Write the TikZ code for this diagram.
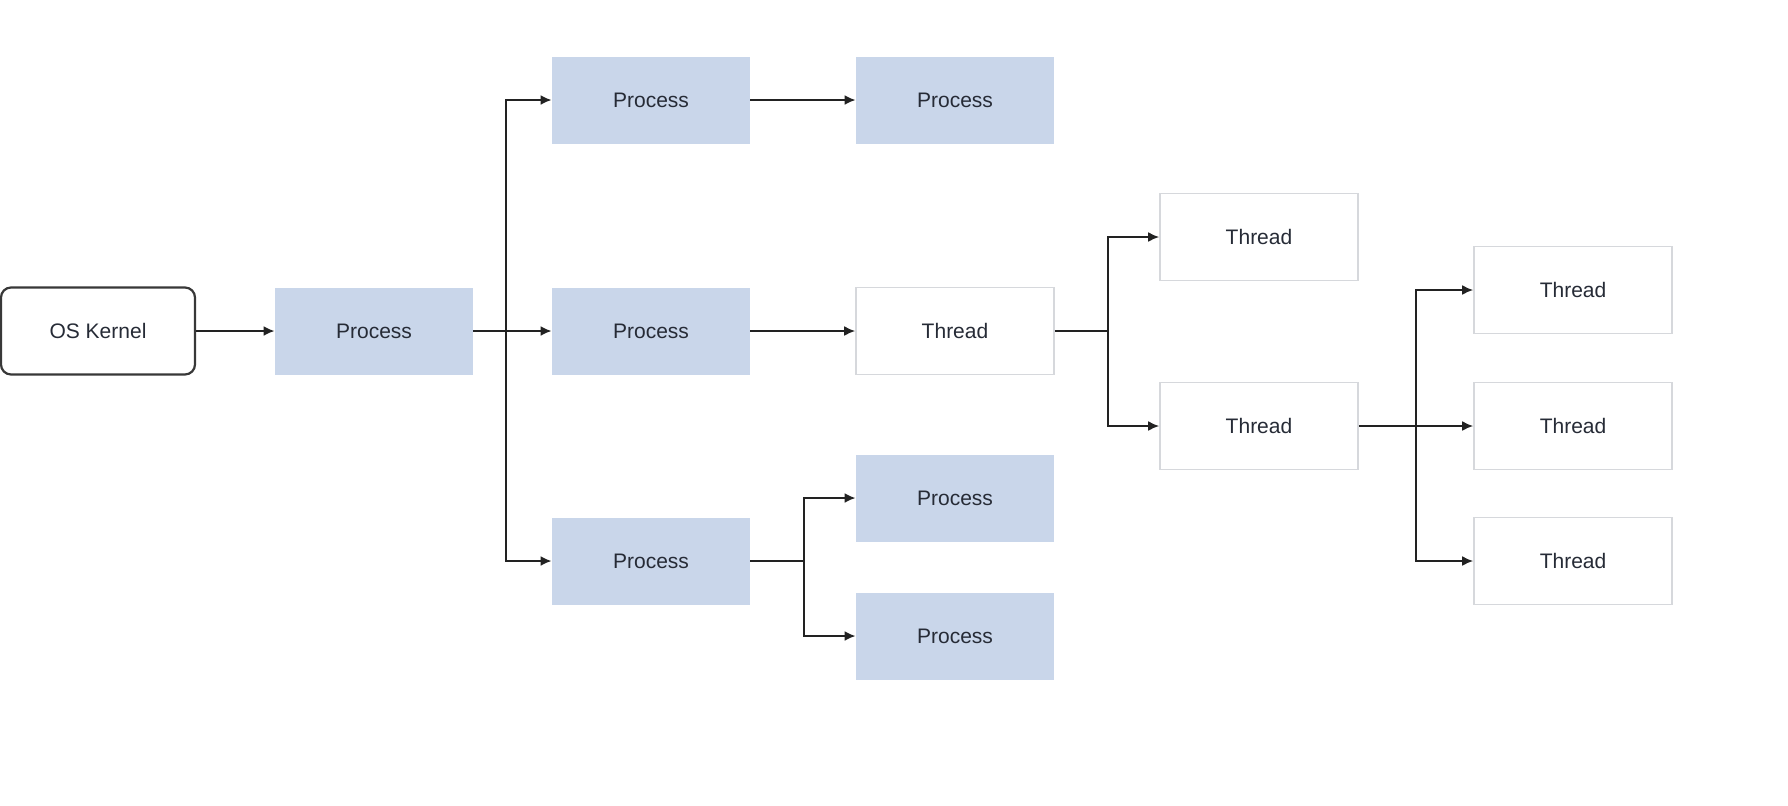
\documentclass[tikz,border=0pt]{standalone}
\usepackage{fontspec}
\setmainfont{Liberation Sans}
\usetikzlibrary{arrows.meta}
\definecolor{procfill}{HTML}{C9D6EA}
\definecolor{thrline}{HTML}{D6D8DC}
\definecolor{txt}{HTML}{262B36}
\definecolor{lnc}{HTML}{222222}
\tikzset{
  basebox/.style={minimum width=99pt, minimum height=43.5pt, inner sep=0pt,
    font=\fontsize{10.5}{12}\selectfont, text=txt},
  procbox/.style={basebox, fill=procfill, draw=none},
  threadbox/.style={basebox, fill=white, draw=thrline, line width=0.8pt},
  kernelbox/.style={basebox, minimum width=97pt, fill=white, draw=lnc!90, line width=1.1pt, rounded corners=5pt},
  conn/.style={draw=lnc, line width=1pt, -{Latex[length=5.5pt,width=5pt]}},
  wire/.style={draw=lnc, line width=1pt}
}
\begin{document}
\begin{tikzpicture}[x=0.5pt,y=-0.5pt]
\useasboundingbox (0,0) rectangle (1788,805);
\node[kernelbox] (k) at (98,331) {OS Kernel};
\node[procbox] (p1) at (374,331) {Process};
\node[procbox] (p2a) at (651,100) {Process};
\node[procbox] (p2b) at (651,331) {Process};
\node[procbox] (p2c) at (651,561) {Process};
\node[procbox] (p3a) at (955,100) {Process};
\node[threadbox] (t3) at (955,331) {Thread};
\node[procbox] (p3b) at (955,498) {Process};
\node[procbox] (p3c) at (955,636) {Process};
\node[threadbox] (t4a) at (1259,237) {Thread};
\node[threadbox] (t4b) at (1259,426) {Thread};
\node[threadbox] (t5a) at (1573,290) {Thread};
\node[threadbox] (t5b) at (1573,426) {Thread};
\node[threadbox] (t5c) at (1573,561) {Thread};
\coordinate (b1) at (506,331);
\coordinate (b2) at (804,561);
\coordinate (b3) at (1108,331);
\coordinate (b4) at (1416,426);
\draw[conn] (k) -- (p1);
\draw[conn] (p1) -- (p2b);
\draw[conn] (b1) |- (p2a.west);
\draw[conn] (b1) |- (p2c.west);
\draw[conn] (p2a) -- (p3a);
\draw[conn] (p2b) -- (t3);
\draw[wire] (p2c.east) -- (b2);
\draw[conn] (b2) |- (p3b.west);
\draw[conn] (b2) |- (p3c.west);
\draw[wire] (t3.east) -- (b3);
\draw[conn] (b3) |- (t4a.west);
\draw[conn] (b3) |- (t4b.west);
\draw[conn] (t4b) -- (t5b);
\draw[conn] (b4) |- (t5a.west);
\draw[conn] (b4) |- (t5c.west);
\end{tikzpicture}
\end{document}
